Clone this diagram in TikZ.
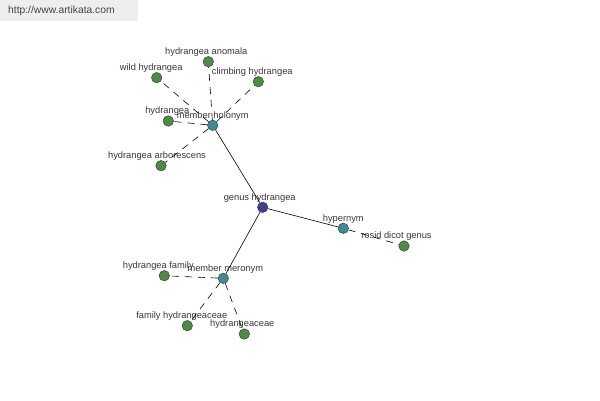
\documentclass[tikz,border=0pt]{standalone}
\usepackage{fontspec}
\setmainfont{Liberation Sans}
\usetikzlibrary{positioning}
\definecolor{rootblue}{HTML}{3C4096}
\definecolor{relteal}{HTML}{3E8C93}
\definecolor{leafgreen}{HTML}{4E8B43}
\definecolor{labelgray}{HTML}{383838}
\definecolor{markgray}{HTML}{EEEEEE}
\definecolor{marktext}{HTML}{3C4A3C}
\begin{document}
\begin{tikzpicture}[x=1pt,y=-1pt,
	dot/.style={circle,draw=black!75,line width=0.5pt,minimum size=10.5pt,inner sep=0pt},
	rootword/.style={dot,fill=rootblue},
	relword/.style={dot,fill=relteal},
	leafword/.style={dot,fill=leafgreen},
	wordlabel/.style={text=labelgray,inner sep=2pt,text depth=2pt},
	link/.style={draw=black,line width=0.6pt},
	dashlink/.style={link,dash pattern=on 7pt off 6pt}]
		\newcommand{\mylabelfont}[1]{
			\fontsize{9.3}{11}\selectfont{#1}
		}\newcommand{\mymarkfont}[1]{
			\fontsize{10.3}{12}\selectfont{#1}
		}%Canvas
		\fill[white] (0,0) rectangle (600,400);
		%Watermark at the top
		\fill[markgray] (0,0) rectangle (138,21);
		\node [anchor=west,inner sep=0pt,text=marktext] (mark) at (8,11) {\mymarkfont{http://www.artikata.com}};
		%genus hydrangea
		\coordinate (genus) at (262.7,207.3);
		\node [rootword] (genusDot) at (genus) {};
		\node [wordlabel,above=3pt,xshift=-3pt] (genusTxt) at (genus) {\mylabelfont{genus hydrangea}};
		%member holonym
		\coordinate (holonym) at (212.7,125.3);
		\node [relword] (holonymDot) at (holonym) {};
		\node [wordlabel,above=3pt] (holonymTxt) at (holonym) {\mylabelfont{member holonym}};
		%hypernym
		\coordinate (hypernym) at (343.3,228.3);
		\node [relword] (hypernymDot) at (hypernym) {};
		\node [wordlabel,above=3pt] (hypernymTxt) at (hypernym) {\mylabelfont{hypernym}};
		%member meronym
		\coordinate (meronym) at (223.3,278.3);
		\node [relword] (meronymDot) at (meronym) {};
		\node [wordlabel,above=3pt,xshift=2pt] (meronymTxt) at (meronym) {\mylabelfont{member meronym}};
		%leaves of member holonym
		\coordinate (anomala) at (208.3,61.7);
		\node [leafword] (anomalaDot) at (anomala) {};
		\node [wordlabel,above=3pt,xshift=-2pt] (anomalaTxt) at (anomala) {\mylabelfont{hydrangea anomala}};
		\coordinate (wild) at (156.7,77.7);
		\node [leafword] (wildDot) at (wild) {};
		\node [wordlabel,above=3pt,xshift=-5.5pt] (wildTxt) at (wild) {\mylabelfont{wild hydrangea}};
		\coordinate (climbing) at (258.3,81.7);
		\node [leafword] (climbingDot) at (climbing) {};
		\node [wordlabel,above=3pt,xshift=-6pt] (climbingTxt) at (climbing) {\mylabelfont{climbing hydrangea}};
		\coordinate (plain) at (168.3,121);
		\node [leafword] (plainDot) at (plain) {};
		\node [wordlabel,above=3pt,xshift=-1pt] (plainTxt) at (plain) {\mylabelfont{hydrangea}};
		\coordinate (arbor) at (161,165.7);
		\node [leafword] (arborDot) at (arbor) {};
		\node [wordlabel,above=3pt,xshift=-4pt] (arborTxt) at (arbor) {\mylabelfont{hydrangea arborescens}};
		%leaf of hypernym
		\coordinate (rosid) at (404,246);
		\node [leafword] (rosidDot) at (rosid) {};
		\node [wordlabel,above=3pt,xshift=-7.5pt] (rosidTxt) at (rosid) {\mylabelfont{rosid dicot genus}};
		%leaves of member meronym
		\coordinate (family) at (164.3,275.7);
		\node [leafword] (familyDot) at (family) {};
		\node [wordlabel,above=3pt,xshift=-6pt] (familyTxt) at (family) {\mylabelfont{hydrangea family}};
		\coordinate (famaceae) at (187.3,325.7);
		\node [leafword] (famaceaeDot) at (famaceae) {};
		\node [wordlabel,above=3pt,xshift=-5.5pt] (famaceaeTxt) at (famaceae) {\mylabelfont{family hydrangeaceae}};
		\coordinate (aceae) at (244.3,334);
		\node [leafword] (aceaeDot) at (aceae) {};
		\node [wordlabel,above=3pt,xshift=-2pt] (aceaeTxt) at (aceae) {\mylabelfont{hydrangeaceae}};
		%Solid links from the genus
		\draw [link] (genusDot) -- (holonymDot);
		\draw [link] (genusDot) -- (hypernymDot);
		\draw [link] (genusDot) -- (meronymDot);
		%Dashed links to the leaves
		\foreach \leaf in {anomalaDot,wildDot,climbingDot,plainDot,arborDot} {
			\draw [dashlink] (holonymDot) -- (\leaf);
		}
		\draw [dashlink] (hypernymDot) -- (rosidDot);
		\foreach \leaf in {familyDot,famaceaeDot,aceaeDot} {
			\draw [dashlink] (meronymDot) -- (\leaf);
		}
		\end{tikzpicture}
\end{document}
